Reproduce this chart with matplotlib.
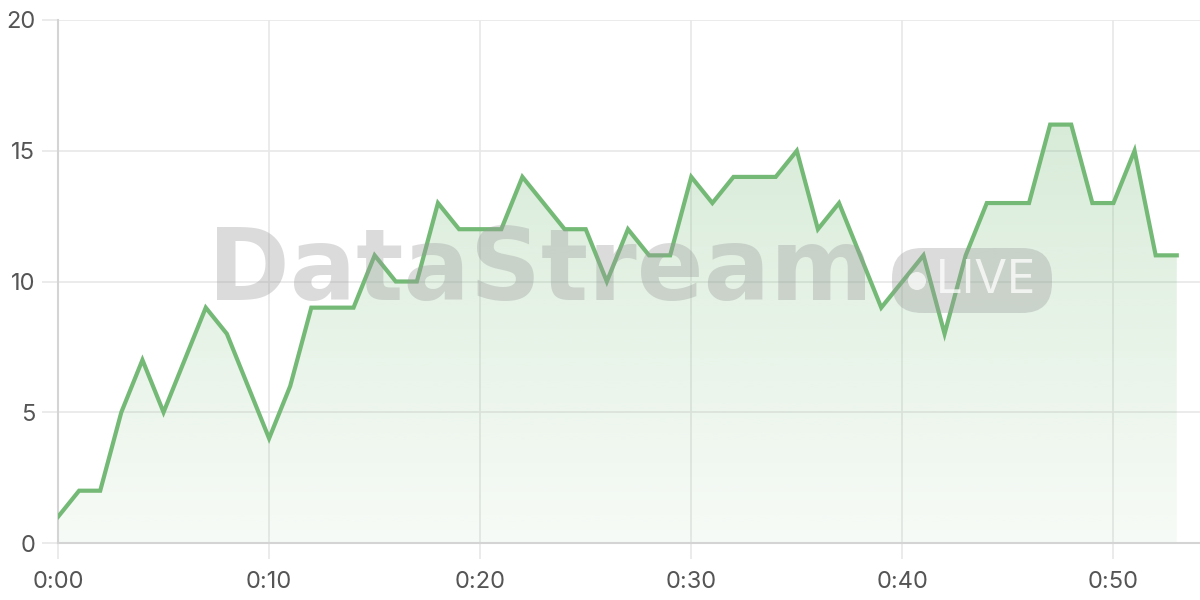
import matplotlib.pyplot as plt
import numpy as np
from matplotlib.patches import FancyBboxPatch, Circle

plt.rcParams['font.family'] = ['Inter', 'DejaVu Sans']

# minutes since start and values
minutes = list(range(54))
values = [1, 2, 2, 5, 7, 5, 7, 9, 8, 6,
          4, 6, 9, 9, 9, 11, 10, 10, 13, 12,
          12, 12, 14, 13, 12, 12, 10, 12, 11, 11,
          14, 13, 14, 14, 14, 15, 12, 13, 11, 9,
          10, 11, 8, 11, 13, 13, 13, 16, 16, 13,
          13, 15, 11, 11]
x_ticks = [0, 10, 20, 30, 40, 50]
x_labels = ['0:00', '0:10', '0:20', '0:30', '0:40', '0:50']
y_ticks = [0, 5, 10, 15, 20]

line_col = '#74b976'
grid_col = '#e8e8e8'
text_col = '#555555'

fig = plt.figure(figsize=(12, 6), dpi=100)
ax = fig.add_axes([58 / 1200, 57 / 600, 1142 / 1200, 523 / 600])

x = np.array(minutes)
y = np.array(values)

# gradient fill under the line
poly = ax.fill_between(x, y, 0, color='none', lw=0)
top = y.max()
grad = np.zeros((256, 1, 4))
grad[:, 0, 0] = 0x74 / 255
grad[:, 0, 1] = 0xb9 / 255
grad[:, 0, 2] = 0x76 / 255
grad[:, 0, 3] = np.linspace(0.28, 0.06, 256)
img = ax.imshow(grad, extent=[x.min(), x.max(), 0, top], aspect='auto',
                origin='upper', zorder=1, interpolation='bilinear')
img.set_clip_path(poly.get_paths()[0], transform=ax.transData)

ax.plot(x, y, color=line_col, lw=3, zorder=3, solid_joinstyle='miter')

ax.set_xlim(0, 54.1)
ax.set_ylim(0, 20)
ax.set_xticks(x_ticks)
ax.set_xticklabels(x_labels)
ax.set_yticks(y_ticks)
ax.grid(True, color=grid_col, lw=1.2, zorder=0)
ax.set_axisbelow(True)

for side in ['top', 'right']:
    ax.spines[side].set_visible(False)
for side in ['left', 'bottom']:
    ax.spines[side].set_color('#d4d4d4')
    ax.spines[side].set_linewidth(1.5)
ax.tick_params(axis='both', length=11.5, width=1.2, color=grid_col,
               labelsize=17, labelcolor=text_col)
ax.tick_params(axis='y', pad=5)
ax.tick_params(axis='x', pad=9)

# watermark, drawn on an overlay in pixel coords
wm = fig.add_axes([0, 0, 1, 1], zorder=5)
wm.set_xlim(0, 1200)
wm.set_ylim(600, 0)
wm.axis('off')
wm.patch.set_visible(False)
wm.text(208, 300, 'DataStream', fontsize=71, fontweight='bold',
        family='DejaVu Sans', color='#9a9a9a', alpha=0.35,
        ha='left', va='baseline')
wm.add_patch(FancyBboxPatch((892, 248), 160, 65,
                            boxstyle='round,pad=0,rounding_size=30',
                            facecolor='#9a9a9a', alpha=0.35, edgecolor='none'))
wm.add_patch(Circle((917, 281), 9, facecolor='white', alpha=0.7,
                    edgecolor='none'))
wm.text(936, 281, 'LIVE', fontsize=34, color='white', alpha=0.75,
        ha='left', va='center')

fig.savefig('out.png', dpi=100)
